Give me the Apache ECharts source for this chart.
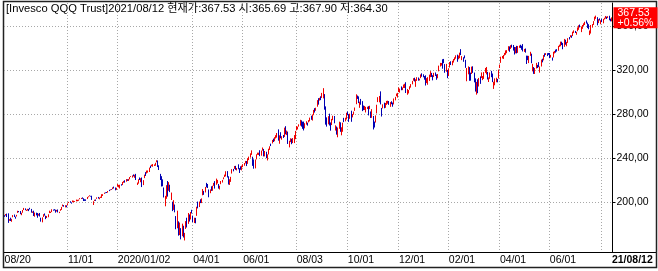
<!DOCTYPE html>
<html><head><meta charset="utf-8">
<script src="https://cdn.jsdelivr.net/npm/echarts@6/dist/echarts.min.js"></script>
<style>html,body{margin:0;padding:0;background:#fff}#c{width:658px;height:271px}</style>
</head><body><div id="c"></div>
<script>
const titleText = '[Invesco QQQ Trust]2021/08/12 현재가:367.53 시:365.69 고:367.90 저:364.30';
const lastPrice = 367.53;
const lastChange = '+0.56%';
const yTicks = [200, 240, 280, 320, 360];
const holidays = ['2019-09-02','2019-11-28','2019-12-25','2020-01-01','2020-01-20','2020-02-17','2020-04-10','2020-05-25','2020-07-03','2020-09-07','2020-11-26','2020-12-25','2021-01-01','2021-01-18','2021-02-15','2021-04-02','2021-05-31','2021-07-05'];
const tickLabels = {'2019-08-20':'08/20','2019-11-01':'11/01','2020-01-02':'2020/01/02','2020-04-01':'04/01','2020-06-01':'06/01','2020-08-03':'08/03','2020-10-01':'10/01','2020-12-01':'12/01','2021-02-01':'02/01','2021-04-01':'04/01','2021-06-01':'06/01','2021-08-02':'','2021-08-12':'21/08/12'};
// [open, close, low, high]
const ohlc = [
[187.6,186.5,186.4,187.9],[188.0,188.6,187.5,188.9],[188.9,188.0,186.2,189.3],[187.6,181.6,180.9,189.6],[183.6,184.0,182.8,184.3],[185.4,183.0,182.6,185.6],[182.4,184.3,181.9,184.6],[186.2,187.6,186.0,188.0],[188.4,187.0,186.2,188.5],
[186.0,185.6,184.7,186.6],[187.3,188.0,186.7,188.2],[190.2,191.3,190.0,191.9],[191.6,191.2,190.6,191.7],[191.6,190.3,188.8,191.7],[189.4,190.0,187.9,190.1],[190.5,192.5,190.1,192.6],[193.5,193.6,192.6,194.5],[193.7,192.9,192.4,194.1],[192.1,192.3,191.8,192.9],[192.3,193.6,192.1,193.7],[193.5,193.3,191.6,193.6],[193.5,193.4,193.1,194.6],[193.4,190.8,190.2,193.6],[190.3,190.9,190.0,191.3],[191.9,187.6,187.2,192.0],[187.7,189.9,186.5,190.3],[190.2,189.1,187.7,190.2],[189.7,187.1,185.6,189.9],[187.6,188.8,187.5,189.2],
[189.5,186.9,186.7,189.9],[185.5,183.4,182.0,185.6],[183.3,185.8,181.4,185.9],[186.4,188.7,186.3,188.8],[188.2,187.8,187.5,189.5],[186.7,184.4,184.3,187.4],[185.7,186.5,185.3,187.2],[186.3,188.1,186.0,188.7],[189.9,190.6,189.8,192.0],[190.3,190.4,189.9,191.1],[190.8,192.8,190.7,193.3],[192.4,192.2,192.0,193.0],[193.1,192.8,192.2,193.4],[192.5,190.9,190.2,192.9],[191.6,192.6,191.2,192.7],[193.0,190.5,190.4,193.1],[190.3,190.9,189.8,191.0],[192.5,193.3,191.9,193.4],[193.0,194.9,192.7,195.4],[196.0,197.1,195.9,197.6],[196.7,195.9,195.6,197.1],[196.0,196.6,195.0,197.0],[196.7,196.1,195.1,196.9],
[197.1,198.6,196.8,198.7],[199.4,199.7,199.0,200.0],[199.8,199.6,199.3,200.6],[199.5,199.2,198.4,199.6],[200.1,200.3,199.7,201.3],[199.9,201.0,199.6,201.1],[200.2,200.6,200.0,200.8],[200.7,201.5,200.5,202.1],[200.9,201.5,200.6,201.9],[201.6,201.9,201.0,202.1],[202.7,203.4,202.4,203.4],[203.3,203.4,202.6,203.6],[204.0,203.6,202.8,204.1],[203.2,202.1,200.8,203.3],[202.2,201.6,200.9,202.4],[202.1,202.0,200.9,202.3],[202.7,204.4,202.6,204.5],[204.6,205.0,204.2,205.1],[205.4,205.9,205.1,206.0],[205.3,205.1,204.8,205.5],
[205.5,202.7,201.8,205.6],[200.0,200.3,197.2,200.6],[201.0,201.6,200.8,202.0],[202.0,201.9,200.9,202.2],[203.0,203.9,202.8,204.1],[203.6,203.2,203.0,204.5],[203.0,203.6,202.4,204.0],[203.8,204.6,203.6,204.7],[204.3,206.3,203.6,207.0],[206.3,206.4,205.4,207.0],[207.8,208.2,207.3,208.4],[208.5,208.3,207.9,208.7],[208.6,208.4,208.1,209.0],[208.6,209.8,208.4,209.9],[210.6,210.5,209.8,211.0],[211.1,211.3,210.6,211.4],[211.5,211.3,210.9,211.6],[211.6,213.1,211.6,213.2],[213.8,212.9,212.2,213.9],[213.0,211.3,210.5,213.1],[211.2,212.6,210.9,212.8],
[214.4,216.2,213.9,216.2],[213.3,214.2,213.2,215.5],[212.5,215.6,212.2,215.6],[215.6,215.5,214.8,216.1],[215.5,217.2,215.3,218.2],[218.6,218.9,217.4,219.1],[219.6,218.4,217.5,219.7],[218.7,220.8,218.4,220.8],[220.4,219.3,219.1,220.6],[219.3,219.6,219.0,220.9],[221.0,222.6,220.5,222.6],[223.2,223.4,222.6,223.4],[222.5,223.2,222.1,224.1],[224.2,223.6,223.2,225.0],[223.0,224.6,221.9,224.7],[225.4,221.6,219.9,225.5],[216.2,216.4,215.4,217.6],[217.6,220.2,216.6,220.6],[221.1,220.6,219.9,222.2],[218.4,221.3,217.9,221.6],[221.9,214.8,213.5,222.2],
[215.9,217.9,215.3,219.8],[222.0,224.7,221.6,224.8],[226.9,225.9,223.6,227.1],[226.6,228.3,225.8,228.5],[227.5,227.9,226.6,228.6],[227.3,231.1,227.2,231.2],[232.3,231.4,230.8,233.0],[232.9,233.9,232.4,233.9],[232.1,233.3,232.0,234.4],[233.6,233.8,232.7,234.1],[233.0,235.2,232.9,235.6],[236.6,237.2,236.1,237.9],[236.8,234.9,231.7,237.7],[233.1,230.3,229.0,233.3],[222.6,221.3,219.9,225.5],[223.0,214.8,214.0,223.4],[216.1,215.6,214.2,220.5],[210.6,204.2,204.0,213.1],[198.7,205.0,196.0,205.5],
[206.8,215.1,202.8,215.2],[216.1,207.8,204.8,219.0],[212.2,217.9,210.1,218.0],[213.6,210.7,208.9,215.6],[204.4,207.1,201.7,208.5],[195.2,192.6,191.6,200.2],[198.0,201.5,192.7,201.6],[197.1,192.9,190.5,197.6],[182.9,175.9,175.1,187.1],[183.2,191.9,176.0,192.0],[172.5,170.7,169.3,182.3],[174.0,179.7,169.8,181.2],[173.2,173.1,165.9,176.1],[171.3,175.8,168.8,180.2],[177.7,168.1,167.6,178.3],[166.3,169.3,164.9,171.8],[176.7,182.5,175.4,182.5],[183.6,179.4,176.7,185.6],[180.2,189.8,180.0,189.9],[185.4,182.9,182.1,188.6],[185.0,190.6,184.0,190.8],[190.8,190.4,189.5,192.8],
[186.7,182.4,181.6,187.5],[182.6,185.2,180.8,185.6],[184.4,182.6,180.5,185.5],[188.2,195.0,187.3,195.6],[199.9,194.6,194.1,200.3],[196.6,199.8,195.3,200.3],[201.6,200.8,198.9,202.4],[200.6,202.9,198.9,203.2],[206.1,211.5,206.0,211.7],[209.2,208.7,206.4,210.0],[211.3,212.9,208.6,213.6],[216.4,216.0,213.2,217.3],[214.2,213.2,212.6,216.3],[211.3,205.6,204.2,211.3],[208.6,211.3,207.9,211.4],[211.6,211.2,210.0,214.2],[212.0,214.6,210.1,214.7],[216.2,217.1,214.6,217.3],[218.8,212.5,212.1,218.9],[215.6,220.3,215.6,221.2],[219.1,219.2,216.8,220.0],
[215.9,213.0,212.1,216.3],[212.1,214.6,211.3,214.7],[216.6,217.0,216.1,219.0],[217.7,219.0,217.6,220.0],[221.2,221.7,220.6,222.3],[223.1,224.7,222.6,224.8],[223.2,227.2,223.2,227.9],[227.4,222.2,222.2,228.0],[222.6,219.0,215.8,223.3],[216.6,220.5,215.4,220.6],[218.4,222.7,218.2,222.8],[226.2,229.3,225.8,229.8],[229.0,228.1,227.8,230.0],[230.2,232.5,230.0,232.7],[232.6,229.9,229.2,232.8],[230.2,230.7,228.6,230.9],[234.2,229.9,229.7,234.2],[230.5,230.1,226.3,230.7],[230.3,229.8,229.2,232.4],[229.8,232.6,228.7,233.0],
[231.9,233.7,231.6,234.3],[234.1,235.3,232.9,235.4],[236.5,236.8,235.0,237.3],[236.6,234.1,232.6,237.2],[235.0,239.0,234.6,239.7],[238.5,241.1,238.0,241.2],[240.3,242.8,240.3,244.2],[244.3,245.6,242.8,246.9],[240.0,232.9,232.8,241.1],[238.6,235.8,230.2,238.7],[231.0,237.9,230.5,238.6],[241.7,242.4,238.7,243.3],[243.5,244.0,242.8,244.8],[243.6,244.4,242.7,244.8],[246.9,242.7,241.6,247.0],[243.0,246.6,242.0,246.7],[248.0,248.1,246.6,249.5],[247.8,243.3,241.4,248.2],[243.1,246.2,241.4,246.3],[245.6,240.1,239.8,245.6],[240.4,243.2,237.7,243.3],[243.4,247.6,243.2,248.4],
[247.8,250.2,247.3,250.6],[252.9,251.4,250.8,253.0],[253.4,256.3,253.2,256.4],[255.9,254.6,254.5,257.6],[256.0,258.8,255.2,258.9],[260.2,260.5,257.7,260.7],[259.9,262.5,258.5,262.7],[264.8,255.9,255.7,266.0],[254.7,260.4,252.9,260.6],[263.3,261.0,257.9,263.4],[258.3,259.4,256.6,259.8],[260.5,259.6,258.2,260.9],[259.7,267.3,259.1,267.6],[268.8,262.0,261.5,268.9],[262.0,264.2,260.8,264.9],[263.6,255.2,252.7,264.0],[250.6,252.6,249.6,255.6],[254.6,257.4,254.4,257.9],[257.3,252.8,252.5,257.5],[253.7,256.8,253.5,258.1],[253.7,260.6,253.5,260.8],[264.4,264.6,257.1,264.6],
[265.8,267.9,265.1,269.0],[267.2,268.2,265.9,268.5],[269.8,270.5,268.5,270.6],[270.5,274.4,269.4,274.7],[274.0,272.4,268.5,274.2],[272.8,270.4,266.5,273.0],[270.7,265.2,265.0,273.1],[267.2,270.9,266.9,271.6],[270.9,271.2,270.3,273.4],[271.6,271.2,269.4,272.1],[272.7,273.9,272.4,274.4],[274.4,276.6,273.3,276.7],[276.6,275.3,274.7,278.4],[274.3,279.2,274.0,279.6],[279.2,282.6,278.9,283.7],[285.2,284.2,281.3,285.3],[284.7,285.6,282.9,285.7],[286.9,292.6,286.6,292.6],[293.6,292.3,288.5,294.4],[293.2,294.6,292.2,294.7],[295.4,294.9,292.6,296.1],
[295.8,299.0,294.6,299.2],[301.3,302.5,294.2,303.5],[298.1,286.1,283.9,298.1],[284.4,281.5,270.3,286.9],[273.9,268.8,268.5,276.9],[272.8,275.6,270.6,278.0],[278.4,270.2,269.5,280.3],[271.7,268.7,264.8,272.3],[272.4,272.9,269.9,275.5],[275.6,276.2,274.3,278.4],[277.8,271.8,271.5,278.2],[267.2,268.1,264.9,269.7],[268.6,265.2,261.2,268.6],[261.7,267.5,258.8,267.7],[269.1,273.0,266.5,273.0],[272.2,264.3,263.8,272.4],[263.3,265.3,260.6,267.9],[265.3,271.4,263.8,272.1],[276.2,274.7,272.6,276.5],[275.0,275.6,273.3,276.6],[276.2,277.8,275.0,281.1],
[281.4,280.6,278.9,282.2],[275.9,273.7,272.8,279.9],[275.8,280.0,275.6,280.3],[280.1,274.4,272.9,283.0],[277.4,279.6,276.9,280.0],[281.3,281.4,279.3,282.2],[283.2,285.9,282.8,285.9],[289.2,296.4,288.9,297.9],[296.3,294.9,293.7,296.8],[295.6,291.7,289.9,296.0],[286.1,290.9,285.6,291.2],[292.1,288.5,288.4,293.7],[290.4,283.6,282.6,291.7],[284.9,284.8,283.5,287.7],[284.5,284.7,283.6,287.3],[285.7,286.0,281.4,286.5],[286.3,286.4,284.5,286.6],[284.6,284.0,278.7,287.1],[284.9,286.9,284.4,287.5],[282.3,276.5,276.4,282.3],[277.7,281.3,276.5,284.4],[277.9,269.4,265.9,278.2],
[271.3,271.0,267.7,273.1],[273.1,276.5,272.2,278.7],[283.1,287.5,280.5,288.4],[292.3,294.7,290.8,295.3],[293.9,295.0,290.6,296.4],[300.4,288.8,288.7,300.6],[284.6,281.8,277.7,285.5],[285.6,288.4,285.1,288.8],[288.2,286.8,285.2,290.3],[287.7,289.6,285.6,290.0],[289.9,291.3,288.3,291.9],[290.1,290.6,289.3,292.1],[290.9,288.3,288.3,291.8],[287.3,290.6,286.5,290.8],[290.6,289.0,288.9,291.6],[290.0,289.4,286.6,290.4],[291.1,293.7,288.7,294.1],[294.2,295.3,292.4,295.6],[296.7,298.0,296.2,298.6],[298.4,299.0,294.9,299.2],
[301.6,302.6,300.0,304.2],[301.2,302.8,299.4,303.1],[303.6,302.7,301.6,305.1],[302.5,304.0,301.7,304.1],[303.8,306.1,303.7,306.8],[304.6,307.1,303.6,307.5],[307.5,300.6,299.1,308.9],[298.0,302.3,297.5,302.8],[300.7,301.6,298.7,301.8],[303.2,303.3,302.2,305.2],[305.2,307.1,304.0,307.2],[307.6,309.9,307.0,310.1],[311.8,312.2,310.3,312.6],[312.7,311.6,309.6,313.0],[307.6,311.4,304.7,311.6],[311.7,312.6,310.1,313.5],[312.8,310.4,310.3,313.2],[310.8,311.9,310.5,312.1],[314.5,315.1,312.6,316.0],[316.9,314.4,313.9,317.0],[315.9,313.8,313.4,316.1],[314.0,313.7,311.2,314.5],
[315.1,309.3,305.9,315.2],[308.3,312.0,308.1,312.6],[307.0,307.5,306.6,313.5],[310.3,315.0,310.1,315.8],[317.3,318.6,313.5,319.0],[315.5,314.4,313.7,317.4],[314.7,314.0,310.6,315.3],[314.0,316.2,313.6,317.4],[316.6,314.8,314.6,317.8],[314.2,311.9,311.1,316.0],[314.0,315.9,312.5,316.4],[319.5,323.6,318.8,324.0],[324.7,326.3,323.2,326.5],[325.0,325.5,324.0,326.4],[328.6,328.5,321.2,329.8],[329.6,327.9,326.2,330.1],[325.2,319.0,317.5,325.4],[319.8,321.6,318.4,325.6],[318.5,314.0,312.6,320.1],
[316.0,321.0,314.5,321.6],[323.9,326.4,322.3,327.3],[327.3,324.9,324.6,328.0],[325.6,328.3,324.3,328.4],[329.3,329.6,326.8,330.0],[330.8,331.5,328.9,331.6],[330.4,332.0,330.3,333.4],[333.6,330.5,327.5,334.0],[332.2,332.5,329.8,333.2],[331.7,335.6,330.7,335.8],[336.3,334.3,333.6,339.0],[331.0,332.2,329.0,332.7],[330.2,330.1,327.5,331.6],[332.4,331.4,330.6,333.3],[327.0,322.3,322.0,329.3],[314.2,321.1,309.8,321.8],[319.0,322.6,316.1,323.3],[320.6,310.9,310.2,322.7],[313.5,313.3,310.3,317.6],
[317.2,323.0,316.4,323.1],[322.9,318.0,317.4,323.4],[316.9,309.0,308.8,317.7],[308.8,304.3,300.4,312.4],[306.9,309.0,297.6,309.2],[310.7,299.3,298.9,311.6],[305.5,310.6,305.0,312.8],[313.5,309.1,307.4,314.2],[313.6,316.8,312.8,317.8],[312.4,314.3,310.8,314.5],[314.0,318.0,311.9,318.1],[319.8,320.0,317.4,321.9],[317.9,321.5,316.0,322.8],[318.0,311.6,311.4,318.3],[310.3,312.4,309.1,313.3],[312.9,316.9,312.0,317.8],[317.3,314.3,313.5,319.2],[316.3,309.0,309.0,316.8],[306.5,307.6,302.8,309.3],[308.4,312.3,306.1,312.4],[311.7,312.4,308.9,313.0],[311.6,310.9,308.8,311.9],[312.4,319.1,312.3,320.4],
[322.2,324.8,321.8,325.0],[327.2,331.6,326.5,332.1],[331.0,331.3,330.5,332.8],[331.2,331.9,330.1,333.7],[334.8,335.5,333.2,335.6],[334.7,337.9,333.9,337.9],[336.8,337.5,335.3,338.1],[337.9,341.1,337.6,341.7],[341.4,337.6,336.6,341.5],[340.2,342.3,339.2,342.6],[343.0,342.6,340.4,343.1],[341.5,339.8,337.7,342.8],[340.2,337.2,334.1,341.0],[336.1,340.7,335.2,340.9],[340.7,336.0,335.1,342.0],[336.5,340.2,335.6,341.9],[341.1,342.1,340.2,342.3],[342.7,340.9,340.1,343.0],[341.6,339.3,338.4,342.1],[343.5,340.7,336.9,343.6],[337.6,338.0,336.5,339.2],
[339.4,336.4,335.8,339.6],[333.1,330.4,325.5,333.1],[332.3,330.0,329.0,333.0],[329.2,332.7,326.3,332.9],[334.3,335.4,332.9,336.6],[334.6,326.3,326.2,334.9],[320.0,325.3,318.8,325.6],[321.1,317.0,316.5,322.7],[318.5,319.5,316.4,321.9],[321.6,326.2,321.4,326.5],[324.4,324.3,321.8,324.7],[325.0,322.8,322.6,327.2],[318.7,322.9,317.6,323.2],[323.4,329.1,323.2,329.5],[329.9,327.4,327.0,330.3],[329.0,333.2,328.8,333.6],[334.3,334.1,332.1,335.2],[334.2,335.0,333.7,335.4],[334.2,333.9,332.7,335.3],[335.2,334.0,333.8,335.5],
[335.4,332.4,330.8,335.5],[332.6,333.2,331.3,333.8],[330.4,329.8,328.6,331.4],[331.5,336.2,331.4,336.6],[335.8,337.0,335.1,337.3],[338.0,337.2,335.8,338.6],[338.0,337.2,336.8,339.0],[337.8,341.8,337.5,342.0],[342.3,342.6,341.1,343.1],[342.9,345.8,341.6,345.9],[345.6,343.2,342.7,345.8],[343.6,341.9,338.9,344.7],[341.8,346.7,341.1,348.3],[345.0,343.5,343.0,347.6],[344.1,345.5,341.6,345.6],[345.5,348.8,344.7,349.0],[349.0,348.9,347.8,350.0],[350.5,350.9,349.8,351.7],[351.3,350.6,349.3,351.5],[351.0,354.4,350.9,354.9],[354.8,355.3,353.6,356.1],[354.9,354.4,353.7,355.6],
[353.6,354.6,352.1,354.7],[355.7,358.6,355.3,358.8],[359.6,360.2,356.6,360.7],[361.1,360.9,358.8,361.4],[355.4,358.5,354.5,359.6],[358.6,360.9,357.5,361.0],[361.6,362.2,360.1,362.5],[361.5,362.2,361.0,363.9],[364.4,363.1,362.3,365.1],[363.0,360.2,358.2,363.2],[361.6,357.5,357.1,361.7],[352.9,354.6,351.8,356.0],[355.5,358.9,353.2,361.0],[359.3,361.7,358.6,361.8],[361.9,364.3,361.0,364.5],[365.4,368.4,364.9,368.5],[367.3,369.1,366.6,369.5],[368.0,364.0,360.7,368.1],[364.9,365.0,362.7,366.3],[366.0,365.9,365.1,367.0],[362.2,364.6,361.7,365.3],
[366.2,364.8,363.6,366.6],[365.5,366.4,362.5,366.5],[366.4,367.0,366.0,367.6],[367.3,369.1,366.8,369.2],[368.5,367.7,366.5,368.6],[368.0,368.6,367.3,369.0],[369.1,365.9,365.3,369.4],[366.8,365.48,364.3,366.8],[365.69,367.53,364.30,367.90]
];

const dates = [];
for (let d = new Date(Date.UTC(2019, 7, 20)); d.getTime() <= Date.UTC(2021, 7, 12); d.setUTCDate(d.getUTCDate() + 1)) {
  const wd = d.getUTCDay();
  if (wd === 0 || wd === 6) continue;
  const s = d.toISOString().slice(0, 10);
  if (holidays.indexOf(s) >= 0) continue;
  dates.push(s);
}

const FONT = '"Liberation Sans", Arial, "Noto Sans CJK KR", sans-serif';
const GRID_L = 4, GRID_R = 45.5, GRID_T = 3, GRID_B = 19;
const gridDash = { color: '#a8a8a8', width: 1, type: [1, 2] };
const isTick = (i, v) => Object.prototype.hasOwnProperty.call(tickLabels, v);
const UP = '#f00000', DOWN = '#0000b4';

const chart = echarts.init(document.getElementById('c'), null, { renderer: 'canvas' });
chart.setOption({
  animation: false,
  backgroundColor: '#fff',
  grid: { left: GRID_L, right: GRID_R, top: GRID_T, bottom: GRID_B },
  xAxis: {
    type: 'category', data: dates, boundaryGap: true,
    axisLine: { show: false }, axisTick: { show: false },
    axisLabel: {
      interval: isTick, align: 'left', margin: 3, color: '#000', fontSize: 10.5, fontFamily: FONT,
      formatter: v => v === '2021-08-12' ? '{b|' + tickLabels[v] + '}' : tickLabels[v],
      rich: { b: { fontWeight: 'bold', fontSize: 10.5, fontFamily: FONT, color: '#000' } }
    },
    splitLine: { show: true, interval: (i, v) => isTick(i, v) && i > 0 && v !== '2021-08-12', lineStyle: gridDash }
  },
  yAxis: {
    type: 'value', position: 'right', min: 154.4, max: 381, scale: true,
    axisLine: { show: true, lineStyle: { color: '#000', width: 1 } },
    axisTick: { show: true, customValues: yTicks, length: 3, lineStyle: { color: '#000' } },
    axisLabel: { customValues: yTicks, margin: 4, color: '#000', fontSize: 10.5, fontFamily: FONT,
      formatter: v => v.toFixed(2).replace('.', ',') },
    splitLine: { show: true, lineStyle: gridDash }
  },
  series: [{
    type: 'candlestick', data: ohlc, barWidth: 1, z: 3,
    itemStyle: { color: UP, color0: DOWN, borderColor: UP, borderColor0: DOWN, borderWidth: 1 },
    markLine: {
      silent: true, symbol: 'none', animation: false, z: 10,
      lineStyle: { color: 'rgba(0,0,0,0)', width: 0 },
      label: {
        show: true, position: 'end', distance: 1, opacity: 1,
        formatter: () => lastPrice.toFixed(2) + '\n' + lastChange,
        backgroundColor: '#ff0000', color: '#fff', fontSize: 10.5, fontFamily: FONT,
        lineHeight: 10, padding: [1, 2, 0, 4], width: 38
      },
      emphasis: { disabled: true },
      data: [{ yAxis: lastPrice }]
    }
  }],
  graphic: [
    { type: 'text', left: 6, top: 3, silent: true,
      style: { text: titleText, fill: '#000', font: '11.2px ' + FONT } },
    { type: 'line', silent: true, shape: { x1: 3, y1: 252.5, x2: 657, y2: 252.5 }, style: { stroke: '#000', lineWidth: 1 } },
    { type: 'rect', silent: true, shape: { x: 3.5, y: 1.5, width: 653, height: 266 }, style: { fill: 'none', stroke: '#222', lineWidth: 1.5 } }
  ]
});
</script>
</body></html>
